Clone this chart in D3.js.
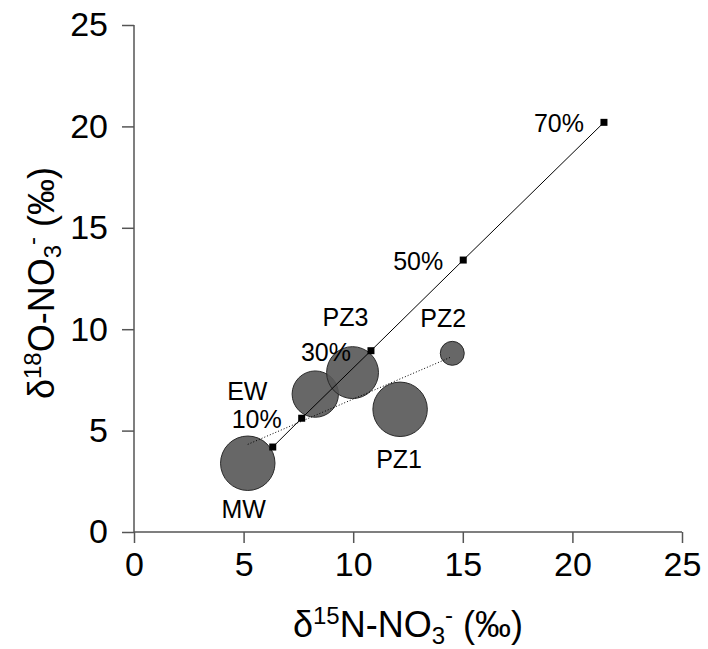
<!DOCTYPE html>
<html>
<head>
<meta charset="utf-8">
<script src="https://cdn.jsdelivr.net/npm/d3@7/dist/d3.min.js"></script>
<style>
  html, body { margin: 0; padding: 0; background: #fff; }
  svg { display: block; font-family: "Liberation Sans", Arial, sans-serif; }
</style>
</head>
<body>
<svg id="chart" width="708" height="649"></svg>
<script>
// Water samples: δ15N and δ18O of nitrate, bubble size per sample
const sampleNames = ["MW", "EW", "PZ3", "PZ1", "PZ2"];
const sampleN15 = [5.19, 8.27, 9.97, 12.14, 14.52];
const sampleO18 = [3.39, 6.80, 7.86, 6.05, 8.81];
const sampleSize = [98, 71, 89, 98, 19];

// Mixing line with fraction markers
const mixLabels = ["", "10%", "30%", "50%", "70%"];
const mixN15 = [6.33, 7.65, 10.81, 15.02, 21.44];
const mixO18 = [4.19, 5.61, 8.94, 13.41, 20.20];

// Dotted trend between samples
const trendN15 = [5.19, 14.49];
const trendO18 = [4.32, 8.64];

// Axis ticks
const xTicks = [0, 5, 10, 15, 20, 25];
const yTicks = [0, 5, 10, 15, 20, 25];

// Label placement relative to each bubble centre (px)
const sampleLabelOffset = {
  MW: [-4, 55], EW: [-68, 6], PZ3: [-7, -47], PZ1: [-1, 59], PZ2: [-9, -26]
};

const svg = d3.select("#chart");
const margin = { left: 134, right: 26, top: 25, bottom: 117 };
const W = 708, H = 649;

const x = d3.scaleLinear().domain([0, 25]).range([margin.left, W - margin.right]);
const y = d3.scaleLinear().domain([0, 25]).range([H - margin.bottom, margin.top]);
const r = d3.scaleSqrt().domain([0, 100]).range([0, 27.5]);

const axisColor = "#555";

// X axis
const xAxis = svg.append("g")
  .attr("transform", `translate(0,${y(0)})`)
  .call(d3.axisBottom(x).tickValues(xTicks).tickSize(11).tickPadding(9).tickFormat(d3.format("d")));
xAxis.select(".domain").attr("stroke", axisColor).attr("stroke-width", 1.5)
  .attr("d", `M${x(0)},0H${x(25)}`);
xAxis.selectAll(".tick line").attr("stroke", axisColor).attr("stroke-width", 1.5);
xAxis.selectAll(".tick text").attr("font-size", 34).attr("fill", "#000")
  .attr("font-family", "Liberation Sans, Arial, sans-serif");

// Y axis
const yAxis = svg.append("g")
  .attr("transform", `translate(${x(0)},0)`)
  .call(d3.axisLeft(y).tickValues(yTicks).tickSize(12).tickPadding(14).tickFormat(d3.format("d")));
yAxis.select(".domain").attr("stroke", axisColor).attr("stroke-width", 1.5)
  .attr("d", `M0,${y(0)}V${y(25)}`);
yAxis.selectAll(".tick line").attr("stroke", axisColor).attr("stroke-width", 1.5);
yAxis.selectAll(".tick text").attr("font-size", 34).attr("fill", "#000")
  .attr("font-family", "Liberation Sans, Arial, sans-serif");

// Axis titles with super/subscripts
function isotopeTitle(g, mass, element) {
  const t = g.append("text").attr("font-size", 36).attr("fill", "#000");
  t.append("tspan").text("δ");
  t.append("tspan").attr("font-size", 24).attr("dy", -13).text(mass);
  t.append("tspan").attr("dy", 13).text(element + "-NO");
  t.append("tspan").attr("font-size", 24).attr("dy", 7).text("3");
  t.append("tspan").attr("font-size", 24).attr("dy", -21).text("-");
  t.append("tspan").attr("dy", 14).text(" (‰)");
  return t;
}
const xt = isotopeTitle(svg.append("g").attr("transform", `translate(408,637)`), "15", "N");
xt.attr("text-anchor", "middle");
const yt = isotopeTitle(svg.append("g").attr("transform", `translate(54,283) rotate(-90)`), "18", "O");
yt.attr("text-anchor", "middle");

// Bubbles
const samples = sampleNames.map((n, i) => ({ name: n, x: sampleN15[i], y: sampleO18[i], s: sampleSize[i] }));
svg.append("g").selectAll("circle").data(samples).join("circle")
  .attr("cx", d => x(d.x)).attr("cy", d => y(d.y)).attr("r", d => r(d.s))
  .attr("fill", "#575757").attr("fill-opacity", 0.9)
  .attr("stroke", "#2a2a2a").attr("stroke-width", 1);

// Dotted trend line
const line = d3.line().x(d => x(d[0])).y(d => y(d[1]));
svg.append("path")
  .attr("d", line(trendN15.map((v, i) => [v, trendO18[i]])))
  .attr("fill", "none").attr("stroke", "#000").attr("stroke-width", 1)
  .attr("stroke-dasharray", "1,2");

// Mixing line and markers
const mix = mixN15.map((v, i) => [v, mixO18[i], mixLabels[i]]);
svg.append("path").attr("d", line(mix))
  .attr("fill", "none").attr("stroke", "#000").attr("stroke-width", 1);
svg.append("g").selectAll("rect").data(mix).join("rect")
  .attr("x", d => x(d[0]) - 3.5).attr("y", d => y(d[1]) - 3.5)
  .attr("width", 7).attr("height", 7).attr("fill", "#000");
svg.append("g").selectAll("text").data(mix.filter(d => d[2])).join("text")
  .attr("x", d => x(d[0]) - 20).attr("y", d => y(d[1]) + 10)
  .attr("text-anchor", "end").attr("font-size", 25).attr("fill", "#000")
  .text(d => d[2]);

// Sample labels
svg.append("g").selectAll("text").data(samples).join("text")
  .attr("x", d => x(d.x) + sampleLabelOffset[d.name][0])
  .attr("y", d => y(d.y) + sampleLabelOffset[d.name][1])
  .attr("text-anchor", "middle").attr("font-size", 25).attr("fill", "#000")
  .text(d => d.name);
</script>
</body>
</html>
